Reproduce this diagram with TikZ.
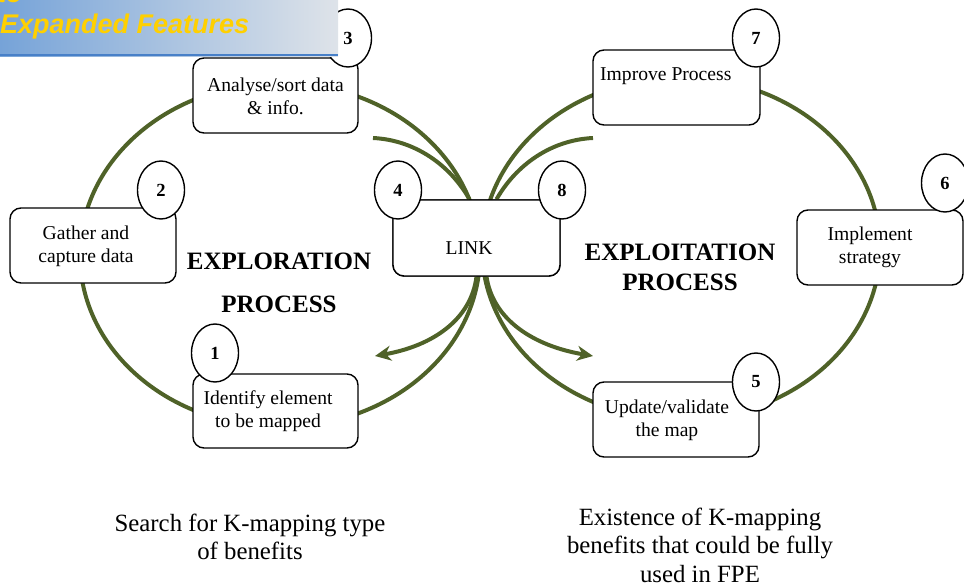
\documentclass[tikz,border=0pt]{standalone}
\usepackage{fontspec}
\setmainfont{Liberation Serif}
\newfontfamily\bannerfont{Liberation Sans}
\usetikzlibrary{shapes.geometric,arrows.meta}
\definecolor{olivedark}{RGB}{79,98,40}
\definecolor{bannerblue}{RGB}{118,163,216}
\definecolor{bannergrey}{RGB}{222,227,233}
\definecolor{bannerline}{RGB}{72,128,200}
\definecolor{banneryellow}{RGB}{255,208,0}
\tikzset{
  stepbox/.style={draw=black, line width=1.4pt, rounded corners=11pt, fill=white,
    minimum width=#1, minimum height=75pt, inner sep=0pt},
  stepbox/.default=166pt,
  numcirc/.style={ellipse, draw=black, line width=1.4pt, fill=white,
    minimum width=47pt, minimum height=58pt, inner sep=0pt,
    font=\fontsize{18.5}{20}\selectfont\bfseries},
  steptext/.style={align=center, inner sep=0pt, font=\fontsize{19.6}{22.8}\selectfont},
  headtext/.style={align=center, inner sep=0pt, font=\fontsize{25}{30}\selectfont\bfseries},
  bottext/.style={align=center, inner sep=0pt, font=\fontsize{24.8}{28.5}\selectfont},
  flow/.style={draw=olivedark, line width=4pt},
  flowarrow/.style={flow, -{Stealth[length=16pt,width=15pt]}},
}
\begin{document}
\begin{tikzpicture}[x=1pt, y=-1pt]
\useasboundingbox (0,0) rectangle (964,586);

% figure-eight loops
\draw[flow] (280,255) ellipse [x radius=200pt, y radius=172pt];
\draw[flow] (681,248.5) ellipse [x radius=199pt, y radius=171pt];

% link box (named first so connectors can refer to it)
\node[stepbox=167pt, minimum height=76pt] (LINK) at (476.5,238) {};

% short arcs into LINK
\coordinate (arcL) at (373,138);
\coordinate (arcR) at (593,138);
\draw[flow] (arcL) .. controls (415,140) and (450,165) .. ([xshift=-7pt]LINK.north);
\draw[flow] (arcR) .. controls (551,140) and (516,165) .. ([xshift=20pt]LINK.north);

% arrows out of LINK
\coordinate (tipL) at (375,356);
\coordinate (tipR) at (593,356);
\draw[flowarrow] ([xshift=0pt]LINK.south) .. controls (471,320) and (432,346) .. (tipL);
\draw[flowarrow] ([xshift=10pt]LINK.south) .. controls (493,320) and (534,346) .. (tipR);

% redraw LINK on top
\node[stepbox=167pt, minimum height=76pt] (LINKtop) at (476.5,238) {};
\node[steptext] (linktext) at (469,248) {LINK};

% step boxes
\node[stepbox=165pt] (analyse) at (275.5,95.5) {};
\node[steptext] (analysetext) at (275.5,96) {Analyse/sort data\\\& info.};
\node[stepbox] (gather) at (93,245.5) {};
\node[steptext] (gathertext) at (86,246) {Gather and\\capture data};
\node[stepbox=165pt, minimum height=74pt] (identify) at (275.5,411) {};
\node[steptext] (identifytext) at (268,411) {Identify element\\to be mapped};
\node[stepbox=167pt] (improve) at (676.5,87.5) {};
\node[steptext, anchor=west] (improvetext) at (600,76) {Improve Process};
\node[stepbox] (implement) at (880,247.5) {};
\node[steptext] (implementtext) at (870,247.5) {Implement\\strategy};
\node[stepbox] (update) at (676,419.5) {};
\node[steptext] (updatetext) at (667,420) {Update/validate\\the map};

% numbered circles
\node[numcirc] (n3) at (348,38) {3};
\node[numcirc] (n2) at (161,190) {2};
\node[numcirc] (n1) at (215,353) {1};
\node[numcirc] (n4) at (398,190) {4};
\node[numcirc] (n8) at (562,190) {8};
\node[numcirc] (n7) at (756,38) {7};
\node[numcirc] (n6) at (945,183) {6};
\node[numcirc] (n5) at (756,382) {5};

% process headings
\node[headtext] (explor1) at (279,261) {EXPLORATION};
\node[headtext] (explor2) at (279,304) {PROCESS};
\node[headtext] (exploit) at (680,267) {EXPLOITATION\\PROCESS};

% bottom captions
\node[bottext] (capL) at (250,537) {Search for K-mapping type\\of benefits};
\node[bottext] (capR) at (700,545) {Existence of K-mapping\\benefits that could be fully\\used in FPE};

% banner (cut-off slide header)
\begin{scope}
  \clip (0,0) rectangle (338,57);
  \shade[left color=bannerblue, right color=bannergrey] (0,0) rectangle (338,57);
  \draw[bannerline, line width=2.5pt] (0,55) -- (338,55);
  \node[anchor=base west, inner sep=0pt, text=banneryellow,
        font=\bannerfont\fontsize{27}{30}\selectfont\bfseries\itshape] (bantop) at (-3,3) {to};
  \node[anchor=base west, inner sep=0pt, text=banneryellow,
        font=\bannerfont\fontsize{27}{30}\selectfont\bfseries\itshape] (banmain) at (0,34) {Expanded Features};
\end{scope}
\end{tikzpicture}
\end{document}
